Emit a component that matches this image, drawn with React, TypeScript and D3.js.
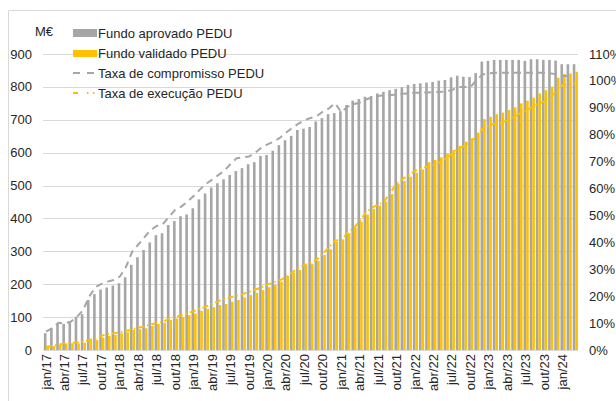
import React from 'react';
import * as d3 from 'd3';

const categories = [
  'jan/17','fev/17','mar/17','abr/17','mai/17','jun/17','jul/17','ago/17','set/17','out/17','nov/17','dez/17',
  'jan/18','fev/18','mar/18','abr/18','mai/18','jun/18','jul/18','ago/18','set/18','out/18','nov/18','dez/18',
  'jan/19','fev/19','mar/19','abr/19','mai/19','jun/19','jul/19','ago/19','set/19','out/19','nov/19','dez/19',
  'jan/20','fev/20','mar/20','abr/20','mai/20','jun/20','jul/20','ago/20','set/20','out/20','nov/20','dez/20',
  'jan/21','fev/21','mar/21','abr/21','mai/21','jun/21','jul/21','ago/21','set/21','out/21','nov/21','dez/21',
  'jan/22','fev/22','mar/22','abr/22','mai/22','jun/22','jul/22','ago/22','set/22','out/22','nov/22','dez/22',
  'jan/23','fev/23','mar/23','abr/23','mai/23','jun/23','jul/23','ago/23','set/23','out/23','nov/23','dez/23',
  'jan/24','fev/24','mar/24',
];

// Fundo aprovado PEDU (M€)
const fundoAprovado = [
  51, 66, 81, 79, 83, 101, 109, 152, 170, 184, 190, 196,
  203, 221, 259, 282, 304, 327, 349, 355, 380, 392, 407, 412,
  431, 458, 476, 494, 507, 519, 532, 544, 553, 565, 571, 590,
  593, 606, 623, 638, 651, 669, 673, 678, 695, 705, 717, 720,
  726, 745, 758, 763, 770, 772, 780, 785, 790, 794, 799, 806,
  809, 811, 813, 815, 819, 821, 829, 834, 831, 830, 842, 877,
  879, 882, 882, 882, 882, 882, 879, 884, 884, 882, 882, 880,
  869, 869, 869,
];

// Fundo validado PEDU (M€)
const fundoValidado = [
  10, 12, 15, 20, 20, 20, 22, 30, 30, 38, 43, 46,
  51, 54, 61, 63, 66, 73, 79, 83, 91, 96, 101, 106,
  111, 119, 125, 130, 137, 140, 147, 152, 160, 167, 174, 182,
  191, 198, 208, 225, 236, 243, 257, 261, 271, 289, 306, 329,
  336, 355, 372, 391, 412, 429, 439, 451, 474, 505, 514, 527,
  539, 549, 571, 578, 586, 598, 608, 620, 634, 644, 661, 702,
  709, 717, 722, 730, 738, 750, 758, 767, 780, 790, 801, 828,
  839, 841, 846,
];

// Taxa de compromisso PEDU (%)
const taxaCompromisso = [
  6.8, 8.1, 10.1, 9.9, 10.5, 12.3, 14.7, 19.8, 23.3, 24.6, 25.4, 26.0,
  27.3, 30.9, 36.5, 39.2, 41.9, 44.6, 46.1, 46.8, 49.5, 52.1, 53.3, 55.2,
  57.2, 59.6, 61.7, 63.3, 65.0, 66.6, 69.1, 71.3, 71.6, 71.9, 73.3, 75.2,
  76.4, 77.4, 78.8, 80.7, 82.5, 84.0, 85.4, 86.2, 86.9, 88.6, 89.8, 91.7,
  88.4, 90.4, 91.4, 91.9, 93.1, 93.9, 94.4, 94.7, 94.7, 95.0, 95.2, 95.3,
  95.6, 95.6, 95.7, 95.8, 95.9, 96.1, 96.6, 97.7, 97.7, 97.7, 100.3, 102.4,
  102.8, 103.0, 103.0, 103.0, 103.0, 103.0, 103.0, 103.0, 103.0, 103.0, 102.8, 102.5,
  101.8, 101.8, 101.8,
];

// Taxa de execução PEDU (%)
const taxaExecucao = [
  1.2, 1.5, 2.0, 2.4, 2.6, 2.8, 3.1, 3.7, 4.3, 5.3, 5.9, 6.2,
  6.6, 7.1, 7.6, 8.3, 8.8, 9.5, 10.0, 10.5, 11.6, 12.2, 13.0, 13.7,
  14.4, 15.4, 16.1, 17.1, 18.1, 19.1, 19.6, 20.2, 20.8, 21.6, 22.5, 23.2,
  24.4, 25.1, 25.9, 27.1, 28.7, 30.6, 31.5, 32.4, 33.6, 35.8, 38.1, 40.7,
  40.8, 43.5, 45.2, 47.9, 51.1, 52.9, 54.0, 55.2, 58.7, 61.7, 63.6, 65.0,
  66.6, 67.5, 68.1, 68.7, 69.7, 71.1, 72.8, 74.8, 75.8, 77.2, 79.4, 82.1,
  83.6, 84.1, 84.3, 85.3, 86.5, 87.8, 89.0, 90.2, 91.4, 92.4, 93.9, 96.3,
  98.5, 98.8, 99.0,
];

const leftTicks = [0, 100, 200, 300, 400, 500, 600, 700, 800, 900];
const rightTicks = [0, 10, 20, 30, 40, 50, 60, 70, 80, 90, 100, 110];
const xTickMonths = ['jan', 'abr', 'jul', 'out'];
const legendLabels = [
  'Fundo aprovado PEDU',
  'Fundo validado PEDU',
  'Taxa de compromisso PEDU',
  'Taxa de execução PEDU',
];

const GREY = '#a6a6a6';
const YELLOW = '#ffc000';
const GRID = '#d9d9d9';
const TEXT = '#262626';
const FONT = '"Liberation Sans", Arial, sans-serif';

export default function App() {
  const W = 616;
  const H = 401;
  const x = d3.scaleBand<string>().domain(categories).range([43, 578]).paddingInner(0).paddingOuter(0);
  const bw = x.bandwidth();
  const yL = d3.scaleLinear().domain([0, 900]).range([350, 54]);
  const yR = d3.scaleLinear().domain([0, 110]).range([350, 54]);

  const lineGen = d3
    .line<number>()
    .x((_, i) => (x(categories[i]) as number) + bw / 2)
    .y((d) => yR(d));

  const greyOff = 0.9;
  const yelOff = 3.5;
  const barW = 2.6;

  return (
    <svg
      width={W}
      height={H}
      style={{ position: 'absolute', left: 0, top: 0, background: '#fff' }}
      fontFamily={FONT}
    >
      <rect x={0} y={0} width={W} height={H} fill="#fff" />
      {/* outer frame */}
      <line x1={8.5} y1={10.5} x2={W} y2={10.5} stroke={GRID} strokeWidth={1} />
      <line x1={8.5} y1={10.5} x2={8.5} y2={H} stroke={GRID} strokeWidth={1} />

      {/* gridlines */}
      {leftTicks.map((t) => (
        <line key={'g' + t} x1={43} x2={578} y1={Math.round(yL(t)) + 0.5} y2={Math.round(yL(t)) + 0.5} stroke={GRID} strokeWidth={1} />
      ))}

      {/* bars */}
      {fundoAprovado.map((v, i) => (
        <rect
          key={'a' + i}
          x={(x(categories[i]) as number) + greyOff}
          y={yL(v)}
          width={barW}
          height={yL(0) - yL(v)}
          fill={GREY}
        />
      ))}
      {fundoValidado.map((v, i) => (
        <rect
          key={'v' + i}
          x={(x(categories[i]) as number) + yelOff}
          y={yL(v)}
          width={barW}
          height={yL(0) - yL(v)}
          fill={YELLOW}
        />
      ))}

      {/* lines */}
      <path d={lineGen(taxaCompromisso) || ''} fill="none" stroke={GREY} strokeWidth={2} strokeDasharray="7,5" />
      <path d={lineGen(taxaExecucao) || ''} fill="none" stroke={YELLOW} strokeWidth={2} strokeDasharray="6,3,1.5,3" />

      {/* left axis labels */}
      {leftTicks.map((t) => (
        <text key={'l' + t} x={32} y={yL(t) + 4.5} textAnchor="end" fontSize={13} fill={TEXT}>
          {t}
        </text>
      ))}
      <text x={35} y={36} fontSize={13} fill={TEXT}>M€</text>

      {/* right axis labels */}
      {rightTicks.map((t) => (
        <text key={'r' + t} x={589} y={yR(t) + 4.5} textAnchor="start" fontSize={13} fill={TEXT}>
          {t}%
        </text>
      ))}

      {/* x axis labels */}
      {categories.map((c) => {
        if (!xTickMonths.includes(c.split('/')[0])) return null;
        const cx = (x(c) as number) + bw / 2 + 4.5;
        return (
          <text
            key={'x' + c}
            transform={`translate(${cx},354) rotate(-90)`}
            textAnchor="end"
            fontSize={13}
            fill={TEXT}
          >
            {c}
          </text>
        );
      })}

      {/* legend */}
      <rect x={73} y={29} width={24} height={8} fill={GREY} />
      <text x={98} y={37.5} fontSize={13} fill={TEXT}>{legendLabels[0]}</text>
      <rect x={73} y={50} width={24} height={7} fill={YELLOW} />
      <text x={98} y={57.5} fontSize={13} fill={TEXT}>{legendLabels[1]}</text>
      <line x1={73} x2={97} y1={73} y2={73} stroke={GREY} strokeWidth={2} strokeDasharray="7,7" />
      <text x={98} y={77.5} fontSize={13} fill={TEXT}>{legendLabels[2]}</text>
      <line x1={73} x2={97} y1={93} y2={93} stroke={YELLOW} strokeWidth={2} strokeDasharray="5,9,1.5,4.5,1.5,10" />
      <text x={98} y={97.5} fontSize={13} fill={TEXT}>{legendLabels[3]}</text>
    </svg>
  );
}
